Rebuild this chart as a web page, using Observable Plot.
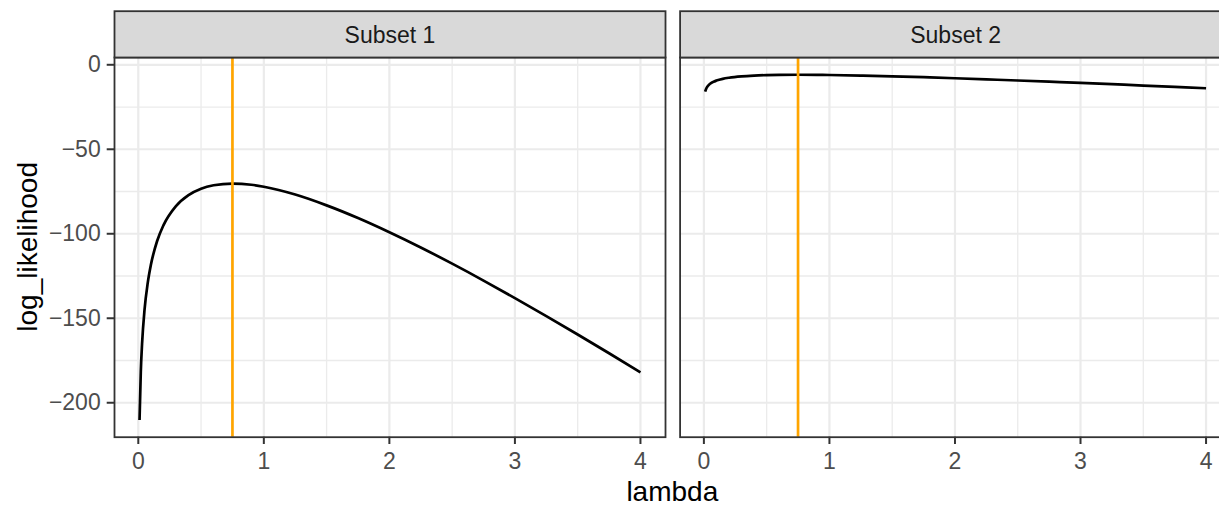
<!DOCTYPE html>
<html>
<head>
<meta charset="utf-8">
<script src="https://cdn.jsdelivr.net/npm/d3@7"></script>
<script src="https://cdn.jsdelivr.net/npm/@observablehq/plot@0.6"></script>
<style>
  html, body { margin: 0; padding: 0; background: #ffffff; overflow: hidden; }
  #chart { width: 1219px; height: 506px; overflow: hidden; }
  #chart svg { font-family: "Liberation Sans", Arial, sans-serif; background: #ffffff;
    max-width: none !important; width: 1245px !important; height: 506px !important; }
</style>
</head>
<body>
<div id="chart"></div>
<script>
// ---- data ----
const subsets = ["Subset 1", "Subset 2"];
const lambdaValues = [0.01, 0.02, 0.03, 0.05, 0.075, 0.1, 0.15, 0.2, 0.3, 0.4, 0.5, 0.6, 0.75, 0.9, 1.0,
  1.25, 1.5, 1.75, 2.0, 2.25, 2.5, 2.75, 3.0, 3.25, 3.5, 3.75, 4.0];
const subset1LogLik = [-210.2, -181.6, -165.2, -144.8, -129.2, -118.5, -104.3, -95.0, -83.6, -77.1, -73.3, -71.3, -70.3, -71.0, -72.2,
  -76.8, -83.2, -90.7, -99.1, -108.1, -117.7, -127.7, -138.1, -148.7, -159.6, -170.7, -182.0];
const subset2LogLik = [-15.9, -13.9, -12.7, -11.2, -10.1, -9.35, -8.33, -7.67, -6.85, -6.39, -6.12, -5.97, -5.90, -5.96, -6.04,
  -6.37, -6.82, -7.36, -7.96, -8.61, -9.29, -10.0, -10.74, -11.5, -12.28, -13.07, -13.88];
const mleLambda = [0.75];
const xTicks = [0, 1, 2, 3, 4];
const xMinor = [0.5, 1.5, 2.5, 3.5];
const yTicks = [-200, -150, -100, -50, 0];
const yMinor = [-175, -125, -75, -25];
const xTitle = "lambda";
const yTitle = "log_likelihood";

const rows = [];
lambdaValues.forEach((l, i) => rows.push({subset: subsets[0], lambda: l, ll: subset1LogLik[i]}));
lambdaValues.forEach((l, i) => rows.push({subset: subsets[1], lambda: l, ll: subset2LogLik[i]}));

// ---- layout ----
const W = 1245, H = 506;
const mL = 114, mR = 14.4, mT = 57, mB = 69.3;
const panelH = H - mT - mB;
const stripH = 46.3;
const minus = d => (d < 0 ? "\u2212" : "") + Math.abs(d);

const svg = Plot.plot({
  width: W,
  height: H,
  marginLeft: mL,
  marginRight: mR,
  marginTop: mT,
  marginBottom: mB,
  style: {fontFamily: "'Liberation Sans', Arial, sans-serif", background: "#ffffff"},
  fx: {domain: subsets, paddingInner: 0.0258, paddingOuter: 0, round: false, axis: null, label: null},
  x: {domain: [-0.1895, 4.1995], label: null},
  y: {domain: [-220.39, 4.31], label: null},
  marks: [
    Plot.ruleX(xMinor, {stroke: "#EBEBEB", strokeWidth: 1.3}),
    Plot.ruleY(yMinor, {stroke: "#EBEBEB", strokeWidth: 1.3}),
    Plot.ruleX(xTicks, {stroke: "#EBEBEB", strokeWidth: 2.2}),
    Plot.ruleY(yTicks, {stroke: "#EBEBEB", strokeWidth: 2.2}),
    Plot.line(rows, {x: "lambda", y: "ll", fx: "subset", stroke: "#000000", strokeWidth: 2.7,
      curve: "monotone-x", strokeLinecap: "butt"}),
    Plot.ruleX(mleLambda, {stroke: "#FFA500", strokeWidth: 2.7}),
    Plot.frame({stroke: "#333333", strokeWidth: 1.8}),
    Plot.frame({fill: "#D9D9D9", stroke: "#333333", strokeWidth: 1.8, insetTop: -stripH, insetBottom: panelH}),
    Plot.text(subsets, {fx: d => d, text: d => d, frameAnchor: "top", dy: -31, fontSize: 23, fill: "#1A1A1A"}),
    Plot.axisX(xTicks, {tickSize: 7.3, tickPadding: 8, fontSize: 23, stroke: "#333333", fill: "#4D4D4D",
      strokeWidth: 2, label: null, tickFormat: d => String(d)}),
    Plot.axisY(yTicks, {tickSize: 7.3, tickPadding: 6.5, fontSize: 23, stroke: "#333333", fill: "#4D4D4D",
      strokeWidth: 2, label: null, tickFormat: minus})
  ]
});

const s = d3.select(svg);
s.append("text")
  .attr("x", (mL + (W - mR)) / 2)
  .attr("y", 501)
  .attr("text-anchor", "middle")
  .attr("font-size", 28)
  .attr("fill", "#000000")
  .text(xTitle);
s.append("text")
  .attr("transform", `translate(36.8, ${mT + panelH / 2}) rotate(-90)`)
  .attr("text-anchor", "middle")
  .attr("font-size", 28)
  .attr("fill", "#000000")
  .text(yTitle);

document.getElementById("chart").appendChild(svg);
</script>
</body>
</html>
